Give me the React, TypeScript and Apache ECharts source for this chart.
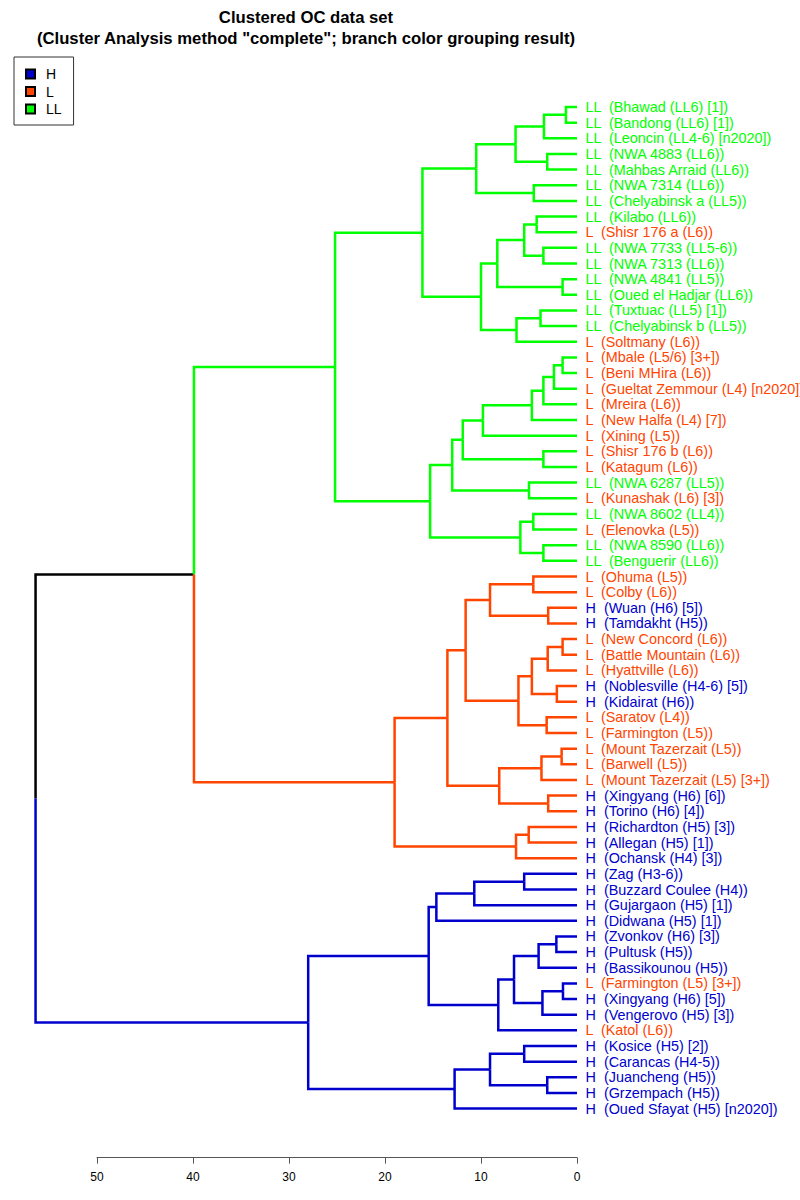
import { useEffect, useRef } from "react";
import * as echarts from "echarts";

// Leaves in display order (top to bottom)
const leafNames = [
  "Bhawad (LL6) [1]", "Bandong (LL6) [1]", "Leoncin (LL4-6) [n2020]", "NWA 4883 (LL6)",
  "Mahbas Arraid (LL6)", "NWA 7314 (LL6)", "Chelyabinsk a (LL5)", "Kilabo (LL6)",
  "Shisr 176 a (L6)", "NWA 7733 (LL5-6)", "NWA 7313 (LL6)", "NWA 4841 (LL5)",
  "Oued el Hadjar (LL6)", "Tuxtuac (LL5) [1]", "Chelyabinsk b (LL5)", "Soltmany (L6)",
  "Mbale (L5/6) [3+]", "Beni MHira (L6)", "Gueltat Zemmour (L4) [n2020]", "Mreira (L6)",
  "New Halfa (L4) [7]", "Xining (L5)", "Shisr 176 b (L6)", "Katagum (L6)",
  "NWA 6287 (LL5)", "Kunashak (L6) [3]", "NWA 8602 (LL4)", "Elenovka (L5)",
  "NWA 8590 (LL6)", "Benguerir (LL6)", "Ohuma (L5)", "Colby (L6)",
  "Wuan (H6) [5]", "Tamdakht (H5)", "New Concord (L6)", "Battle Mountain (L6)",
  "Hyattville (L6)", "Noblesville (H4-6) [5]", "Kidairat (H6)", "Saratov (L4)",
  "Farmington (L5)", "Mount Tazerzait (L5)", "Barwell (L5)", "Mount Tazerzait (L5) [3+]",
  "Xingyang (H6) [6]", "Torino (H6) [4]", "Richardton (H5) [3]", "Allegan (H5) [1]",
  "Ochansk (H4) [3]", "Zag (H3-6)", "Buzzard Coulee (H4)", "Gujargaon (H5) [1]",
  "Didwana (H5) [1]", "Zvonkov (H6) [3]", "Pultusk (H5)", "Bassikounou (H5)",
  "Farmington (L5) [3+]", "Xingyang (H6) [5]", "Vengerovo (H5) [3]", "Katol (L6)",
  "Kosice (H5) [2]", "Carancas (H4-5)", "Juancheng (H5)", "Grzempach (H5)",
  "Oued Sfayat (H5) [n2020]",
];

const leafGroups = [
  "LL", "LL", "LL", "LL", "LL", "LL", "LL", "LL", "L", "LL", "LL", "LL", "LL", "LL", "LL", "L",
  "L", "L", "L", "L", "L", "L", "L", "L", "LL", "L", "LL", "L", "LL", "LL", "L", "L",
  "H", "H", "L", "L", "L", "H", "H", "L", "L", "L", "L", "L", "H", "H", "H", "H",
  "H", "H", "H", "H", "H", "H", "H", "H", "L", "H", "H", "L", "H", "H", "H", "H", "H",
];

// hclust-style merges: negative = leaf (1-based display index), positive = earlier merge (1-based)
const mergeLeft = [
  -1, 1, -4, 2, -6, 4, -8, -10, 7, -12, 9, -14, 12, 11, 6,
  -17, 16, 17, 18, 19, -23, 20, -25, 22, -27, -29, 25, 24, 15,
  -31, -33, 30, -35, 33, -38, 34, -40, 36, 32, -42, 40, -45, 41, 39, -47, 45, 44, 29,
  -50, 49, 50, -54, 52, -57, 54, 53, 56, 51, -61, -63, 59, 61, 58, 48,
];
const mergeRight = [
  -2, -3, -5, 3, -7, 5, -9, -11, 8, -13, 10, -15, -16, 13, 14,
  -18, -19, -20, -21, -22, -24, 21, -26, 23, -28, -30, 26, 27, 28,
  -32, -34, 31, -36, -37, -39, 35, -41, 37, 38, -43, -44, -46, 42, 43, -48, -49, 46, 47,
  -51, -52, -53, -55, -56, -58, -59, 55, -60, 57, -62, -64, 60, -65, 62, 63,
];
const mergeHeight = [
  1.15, 3.44, 3.1, 6.4, 4.5, 10.5, 4.2, 3.5, 5.5, 1.5, 8.3, 3.8, 6.3, 10.0, 16.1,
  1.5, 2.4, 3.5, 4.7, 9.8, 3.5, 11.9, 5.0, 13.0, 4.55, 3.5, 5.9, 15.3, 25.2,
  4.55, 3.0, 9.06, 1.5, 3.05, 2.1, 4.7, 3.16, 6.1, 11.6, 1.6, 3.7, 3.0, 8.1, 13.5, 5.03, 6.35, 19.0, 39.9,
  5.5, 10.7, 14.65, 2.15, 4.0, 1.46, 3.6, 6.56, 8.2, 15.45, 5.5, 3.1, 9.06, 12.75, 28.0, 56.4,
];

// k = 3 cluster grouping (merge ids) and their branch colours
const clusterNodes = [29, 47, 63];
const clusterColors = ["#00FF00", "#FF4500", "#0000CD"];
const groupNames = ["H", "L", "LL"];
const groupColors: Record<string, string> = { H: "#0000CD", L: "#FF4500", LL: "#00FF00" };
const axisTicks = [0, 10, 20, 30, 40, 50];

const FONT = "'Liberation Sans', Arial, Helvetica, sans-serif";

function buildEdges() {
  const nodeY: number[] = [];
  const pos = (ref: number) =>
    ref < 0 ? { y: -ref - 1, h: 0 } : { y: nodeY[ref - 1], h: mergeHeight[ref - 1] };
  for (let i = 0; i < mergeHeight.length; i++) {
    nodeY[i] = (pos(mergeLeft[i]).y + pos(mergeRight[i]).y) / 2;
  }
  const edges: { coords: number[][]; color: string }[] = [];
  const walk = (ref: number, color: string) => {
    if (ref < 0) return;
    const p = pos(ref);
    for (const c of [mergeLeft[ref - 1], mergeRight[ref - 1]]) {
      const ci = c > 0 ? clusterNodes.indexOf(c) : -1;
      const cc = ci >= 0 ? clusterColors[ci] : color;
      const q = pos(c);
      edges.push({ coords: [[p.h, p.y], [p.h, q.y], [q.h, q.y]], color: cc });
      walk(c, cc);
    }
  };
  walk(mergeHeight.length, "#000000");
  return edges;
}

export default function App() {
  const ref = useRef<HTMLDivElement>(null);
  useEffect(() => {
    if (!ref.current) return;
    const chart = echarts.init(ref.current, undefined, { renderer: "svg" });
    const edges = buildEdges();
    const n = leafNames.length;
    chart.setOption({
      animation: false,
      backgroundColor: "#ffffff",
      textStyle: { fontFamily: FONT },
      title: {
        text: 'Clustered OC data set\n(Cluster Analysis method "complete"; branch color grouping result)',
        left: 306,
        top: 7,
        padding: 0,
        textAlign: "center",
        textStyle: { fontSize: 16.7, fontWeight: "bold", color: "#000", lineHeight: 21, fontFamily: FONT },
      },
      legend: {
        orient: "vertical",
        left: 14,
        top: 57,
        data: groupNames,
        icon: "rect",
        itemWidth: 9,
        itemHeight: 9,
        itemGap: 3.5,
        selectedMode: false,
        borderColor: "#333",
        borderWidth: 1,
        padding: [10, 12, 9, 11],
        textStyle: { fontSize: 14, color: "#000", fontFamily: FONT, padding: [0, 0, 0, 6] },
      },
      grid: { left: 97, width: 480, top: 107, height: 64 * 15.65 },
      xAxis: {
        type: "value",
        inverse: true,
        position: "bottom",
        min: axisTicks[0],
        max: axisTicks[axisTicks.length - 1],
        interval: 10,
        offset: 49,
        axisLine: { show: true, onZero: false, lineStyle: { color: "#555", width: 1 } },
        axisTick: { show: true, length: 6, lineStyle: { color: "#555" } },
        axisLabel: { fontSize: 12, color: "#000", margin: 13, fontFamily: FONT },
        splitLine: { show: false },
      },
      yAxis: { type: "value", inverse: true, min: 0, max: n - 1, show: false },
      series: [
        {
          type: "lines",
          coordinateSystem: "cartesian2d",
          polyline: true,
          clip: false,
          silent: true,
          lineStyle: { width: 2.5, opacity: 1, curveness: 0 },
          data: edges.map((e) => ({ coords: e.coords, lineStyle: { color: e.color, width: 2.5, opacity: 1 } })),
        },
        {
          type: "scatter",
          clip: false,
          silent: true,
          symbolSize: 1,
          itemStyle: { color: "rgba(0,0,0,0)", opacity: 1 },
          data: leafNames.map((nm, i) => ({
            name: `${leafGroups[i]}  (${nm})`,
            value: [0, i],
            label: {
              show: true,
              position: "right",
              distance: 8,
              formatter: "{b}",
              color: groupColors[leafGroups[i]],
              fontSize: 14.4,
              fontFamily: FONT,
            },
          })),
        },
        ...groupNames.map((g) => ({
          type: "scatter",
          name: g,
          data: [],
          itemStyle: { color: groupColors[g], borderColor: "#000", borderWidth: 1, opacity: 1 },
        })),
      ],
    });
    return () => chart.dispose();
  }, []);
  return (
    <div
      ref={ref}
      style={{ position: "absolute", left: 0, top: 0, width: 800, height: 1200 }}
    />
  );
}
